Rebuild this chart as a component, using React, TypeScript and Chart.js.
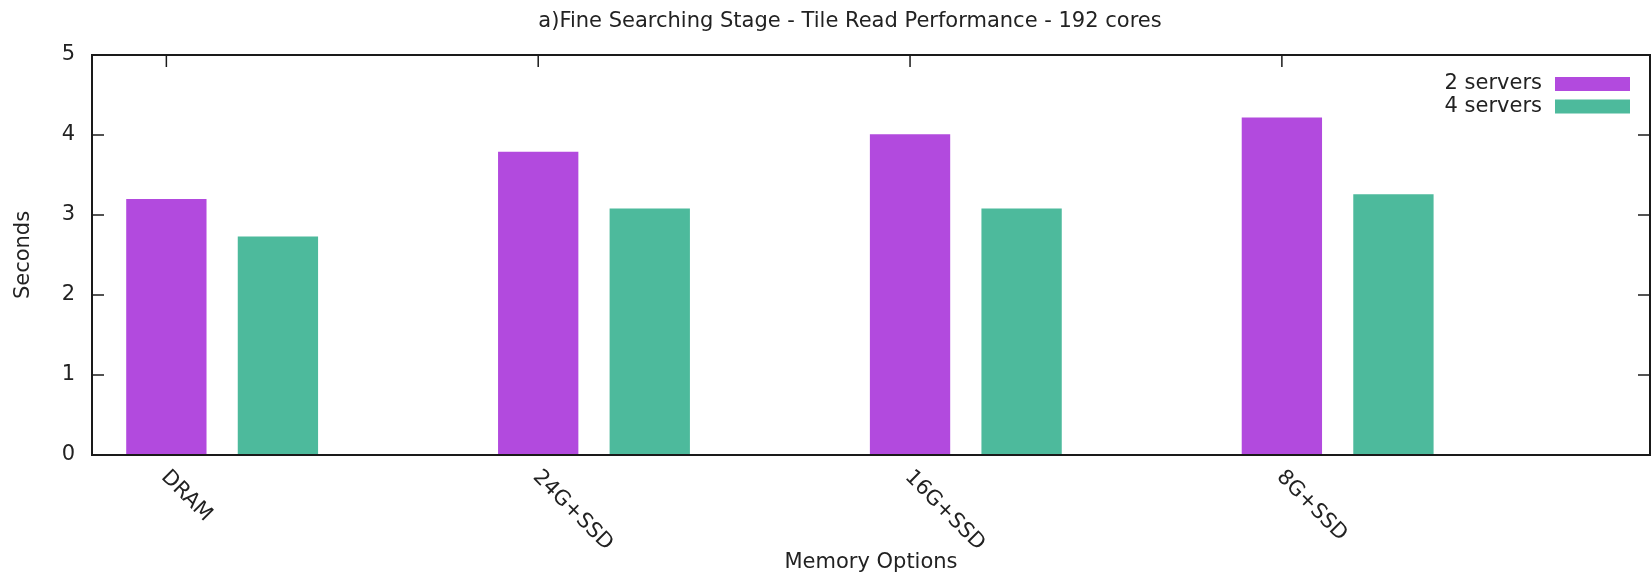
import React, { useEffect, useRef } from "react";
import { Chart, registerables } from "chart.js";

Chart.register(...registerables);

const TITLE = "a)Fine Searching Stage - Tile Read Performance - 192 cores";
const X_TITLE = "Memory Options";
const Y_TITLE = "Seconds";
const categories = ["DRAM", "24G+SSD", "16G+SSD", "8G+SSD"];
const seriesLabels = ["2 servers", "4 servers"];
const twoServers = [3.2, 3.79, 4.01, 4.22];
const fourServers = [2.73, 3.08, 3.08, 3.26];
const yTicks = [0, 1, 2, 3, 4, 5];

const FONT = "'DejaVu Sans', sans-serif";
const FONT_SIZE = 21;
const PURPLE = "#b24ade";
const GREEN = "#4dba9c";
const TEXT = "#222222";
const AXIS = "#1a1a1a";
const TICK_LEN = 12;
const GROUP_OFFSET = 0.3;

const gnuplotDecor = {
  id: "gnuplotDecor",
  beforeDatasetsDraw(chart: any) {
    const { ctx, chartArea, scales } = chart;
    const { left, right, top, bottom } = chartArea;
    const x = scales.x;
    const y = scales.y;
    ctx.save();
    ctx.strokeStyle = AXIS;
    ctx.lineWidth = 1.5;
    const line = (x1: number, y1: number, x2: number, y2: number) => {
      ctx.beginPath();
      ctx.moveTo(x1, y1);
      ctx.lineTo(x2, y2);
      ctx.stroke();
    };
    yTicks.forEach((v) => {
      const py = y.getPixelForValue(v);
      line(left, py, left + TICK_LEN, py);
      line(right, py, right - TICK_LEN, py);
    });
    categories.forEach((_, i) => {
      const px = x.getPixelForValue(i);
      line(px, bottom, px, bottom - TICK_LEN);
      line(px, top, px, top + TICK_LEN);
    });
    ctx.restore();
  },
  afterDatasetsDraw(chart: any) {
    const { ctx, chartArea, scales } = chart;
    const { left, right, top, bottom } = chartArea;
    const x = scales.x;
    ctx.save();
    ctx.strokeStyle = AXIS;
    ctx.lineWidth = 2;
    ctx.strokeRect(left, top, right - left, bottom - top);

    ctx.font = `${FONT_SIZE}px ${FONT}`;
    ctx.fillStyle = TEXT;

    categories.forEach((c, i) => {
      const px = x.getPixelForValue(i);
      ctx.save();
      ctx.translate(px - 2, bottom + 19);
      ctx.rotate(Math.PI / 4);
      ctx.textAlign = "left";
      ctx.textBaseline = "middle";
      ctx.fillText(c, 0, 0);
      ctx.restore();
    });

    ctx.textAlign = "center";
    ctx.textBaseline = "middle";
    ctx.fillText(TITLE, (left + right) / 2 - 21, top - 33);

    const colors = [PURPLE, GREEN];
    seriesLabels.forEach((lab, i) => {
      const cy = top + 29 + i * 22.5;
      ctx.fillStyle = TEXT;
      ctx.textAlign = "right";
      ctx.textBaseline = "middle";
      ctx.fillText(lab, right - 108, cy);
      ctx.fillStyle = colors[i];
      ctx.fillRect(right - 95, cy - 7, 75, 14);
    });
    ctx.restore();
  },
};

export default function App() {
  const ref = useRef<HTMLCanvasElement | null>(null);

  useEffect(() => {
    if (!ref.current) return;
    const chart = new Chart(ref.current, {
      type: "bar",
      data: {
        datasets: [
          {
            label: seriesLabels[0],
            data: categories.map((_, i) => ({ x: i, y: twoServers[i] })),
            backgroundColor: PURPLE,
            borderWidth: 0,
          },
          {
            label: seriesLabels[1],
            data: categories.map((_, i) => ({ x: i + GROUP_OFFSET, y: fourServers[i] })),
            backgroundColor: GREEN,
            borderWidth: 0,
          },
        ],
      },
      options: {
        animation: false,
        responsive: false,
        maintainAspectRatio: false,
        grouped: false,
        barPercentage: 0.72,
        categoryPercentage: 1,
        layout: { padding: { top: 55, right: 2, left: 0, bottom: 0 } },
        plugins: {
          legend: { display: false },
          tooltip: { enabled: false },
          title: { display: false },
        },
        scales: {
          x: {
            type: "linear",
            offset: false,
            min: -0.2,
            max: 3.99,
            grid: { display: false, offset: false },
            border: { display: false },
            ticks: { display: false },
            afterBuildTicks: (scale: any) => {
              scale.ticks = categories.map((_, i) => ({ value: i }));
            },
            afterFit: (scale: any) => {
              scale.height = 120;
            },
            title: {
              display: true,
              text: X_TITLE,
              color: TEXT,
              font: { family: FONT, size: FONT_SIZE },
              padding: { top: 0, bottom: 0 },
            },
          },
          y: {
            min: 0,
            max: 5,
            grid: { display: false, drawTicks: false },
            border: { display: false },
            ticks: {
              stepSize: 1,
              padding: 17,
              color: TEXT,
              font: { family: FONT, size: FONT_SIZE },
            },
            afterFit: (scale: any) => {
              scale.width = 92;
            },
            title: {
              display: true,
              text: Y_TITLE,
              color: TEXT,
              font: { family: FONT, size: FONT_SIZE },
              padding: { top: 11, bottom: 0 },
            },
          },
        },
      } as any,
      plugins: [gnuplotDecor],
    });
    return () => chart.destroy();
  }, []);

  return (
    <div style={{ position: "fixed", left: 0, top: 0, width: 1652, height: 575, background: "#fff" }}>
      <canvas ref={ref} width={1652} height={575} style={{ width: 1652, height: 575 }} />
    </div>
  );
}
